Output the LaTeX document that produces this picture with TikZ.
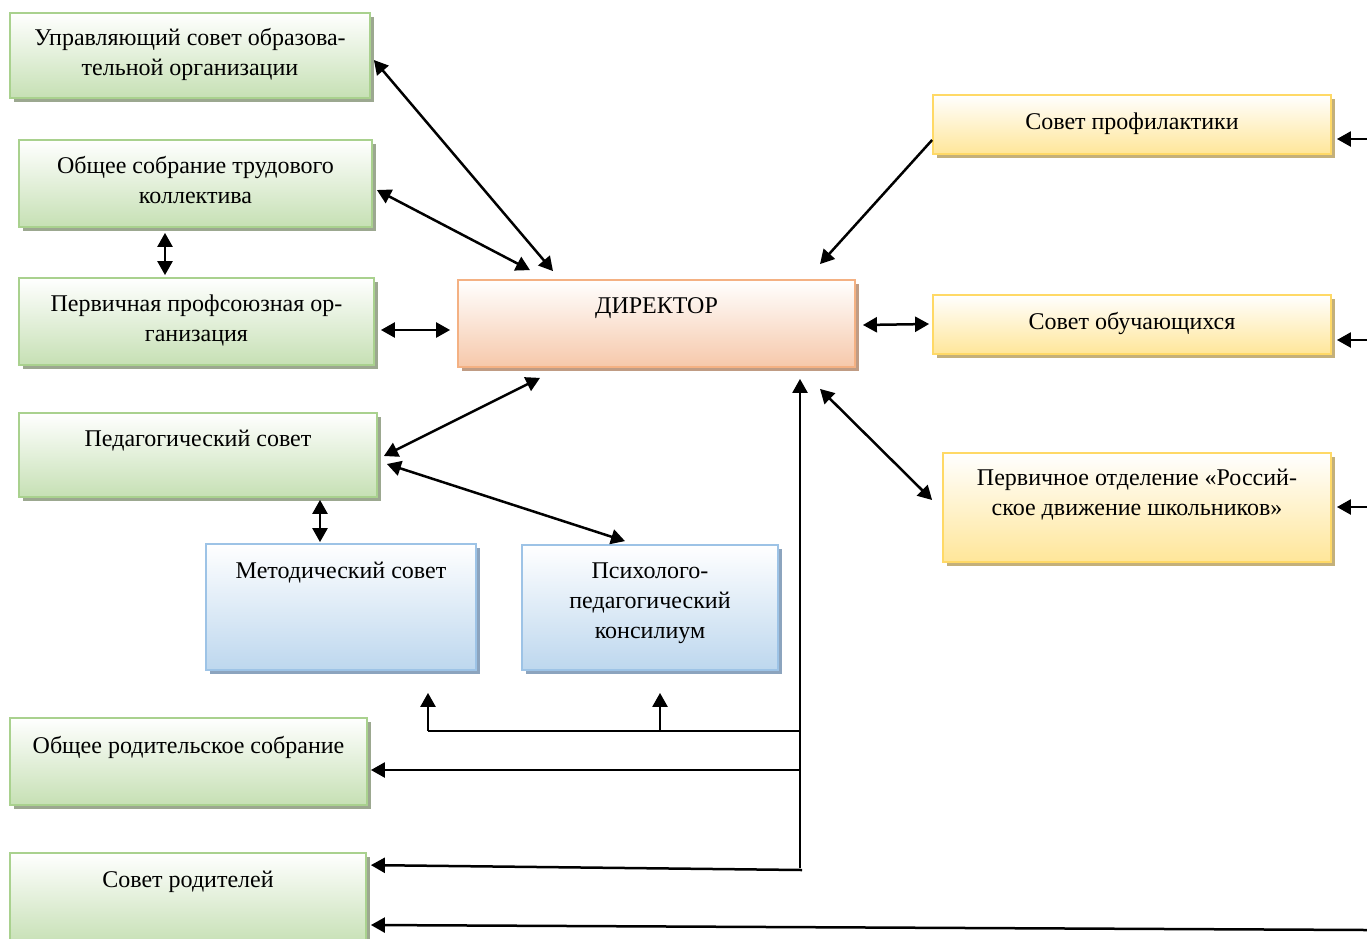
\documentclass[tikz,border=0pt]{standalone}
\usepackage{fontspec}
\setmainfont{Liberation Serif}
\usetikzlibrary{arrows.meta,calc,shadows}
\definecolor{gbord}{HTML}{A9D18E}
\definecolor{gfill}{HTML}{C6E0B4}
\definecolor{gshad}{HTML}{9CA890}
\definecolor{obord}{HTML}{F4B183}
\definecolor{ofill}{HTML}{F6C8AA}
\definecolor{oshad}{HTML}{C09C84}
\definecolor{ybord}{HTML}{FFD966}
\definecolor{yfill}{HTML}{FFE699}
\definecolor{yshad}{HTML}{C4B07A}
\definecolor{bbord}{HTML}{9DC3E6}
\definecolor{bfill}{HTML}{BDD7EE}
\definecolor{bshad}{HTML}{8CA4BE}
\tikzset{
  boxbase/.style={draw, line width=1.8pt, inner sep=0pt},
  greenbox/.style={boxbase, draw=gbord, top color=white, bottom color=gfill,
    drop shadow={shadow xshift=4pt, shadow yshift=-4pt, fill=gshad, opacity=1}},
  orangebox/.style={boxbase, draw=obord, top color=white, bottom color=ofill,
    drop shadow={shadow xshift=4pt, shadow yshift=-4pt, fill=oshad, opacity=1}},
  yellowbox/.style={boxbase, draw=ybord, top color=white, bottom color=yfill,
    drop shadow={shadow xshift=4pt, shadow yshift=-4pt, fill=yshad, opacity=1}},
  bluebox/.style={boxbase, draw=bbord, top color=white, bottom color=bfill,
    drop shadow={shadow xshift=4pt, shadow yshift=-4pt, fill=bshad, opacity=1}},
  txt/.style={anchor=north, align=center, inner sep=0pt, font=\fontsize{24}{30}\selectfont},
  tip/.tip={Triangle[length=14pt,width=15pt]},
  dbl/.style={{tip}-{tip}, line width=2.5pt},
  sgl/.style={-{tip}, line width=2.5pt},
  plain/.style={line width=2.5pt},
}
\newcommand{\st}{\strut}
\begin{document}
\begin{tikzpicture}[x=1pt,y=-1pt]
\useasboundingbox (0,0) rectangle (1367,938);
\fill[white] (0,0) rectangle (1367,938);
% boxes
\node[greenbox, minimum width=360pt, minimum height=85pt] (ups) at (190,55.5) {};
\node[greenbox, minimum width=353pt, minimum height=87pt] (obs) at (195.5,183.5) {};
\node[greenbox, minimum width=355pt, minimum height=87pt] (ppo) at (196.5,321.5) {};
\node[greenbox, minimum width=358pt, minimum height=84pt] (ped) at (198,455) {};
\node[bluebox, minimum width=270pt, minimum height=126pt] (met) at (341,607) {};
\node[bluebox, minimum width=256pt, minimum height=125pt] (psy) at (650,607.5) {};
\node[greenbox, minimum width=357pt, minimum height=87pt] (orc) at (188.5,761.5) {};
\node[greenbox, minimum width=356pt, minimum height=92pt] (sr) at (188,899) {};
\node[orangebox, minimum width=397pt, minimum height=87pt] (dir) at (656.5,323.5) {};
\node[yellowbox, minimum width=398pt, minimum height=59pt] (prof) at (1132,124.5) {};
\node[yellowbox, minimum width=398pt, minimum height=59pt] (obu) at (1132,324.5) {};
\node[yellowbox, minimum width=388pt, minimum height=109pt] (rdsh) at (1137,507.5) {};
% texts
\node[txt] (t-ups) at ($(ups.north)+(0,12.5)$) {\st Управляющий совет образова-\\тельной организации};
\node[txt] (t-obs) at ($(obs.north)+(0,13.5)$) {\st Общее собрание трудового\\коллектива};
\node[txt] (t-ppo) at ($(ppo.north)+(0,13.5)$) {\st Первичная профсоюзная ор-\\ганизация};
\node[txt] (t-ped) at ($(ped.north)+(0,13.5)$) {\st Педагогический совет};
\node[txt] (t-met) at ($(met.north)+(0,14.5)$) {\st Методический совет};
\node[txt] (t-psy) at ($(psy.north)+(0,13.5)$) {\st Психолого-\\педагогический\\консилиум};
\node[txt] (t-orc) at ($(orc.north)+(0,15.5)$) {\st Общее родительское собрание};
\node[txt] (t-sr) at ($(sr.north)+(0,14.5)$) {\st Совет родителей};
\node[txt] (t-dir) at ($(dir.north)+(0,13.5)$) {\st ДИРЕКТОР};
\node[txt] (t-prof) at ($(prof.north)+(0,14.5)$) {\st Совет профилактики};
\node[txt] (t-obu) at ($(obu.north)+(0,14.5)$) {\st Совет обучающихся};
\node[txt] (t-rdsh) at ($(rdsh.north)+(0,12.5)$) {\st Первичное отделение «Россий-\\ское движение школьников»};
% free ends on the right edge and junctions
\coordinate (r1) at (1367,139);
\coordinate (r2) at (1367,340);
\coordinate (r3) at (1367,507);
\coordinate (r4) at (1367,930);
\coordinate (bus) at (800,868);
\coordinate (busend) at (802,870);
\coordinate (j1) at (800,731);
\coordinate (j2) at (660,731);
\coordinate (j3) at (428,731);
\coordinate (j4) at (800,770);
% connectors
\draw[dbl] ($(ups.east)+(3,4.5)$) -- ($(dir.north)+(-103.5,-8)$);
\draw[dbl] ($(obs.east)+(4,6.5)$) -- ($(dir.north)+(-126.5,-9)$);
\draw[dbl] ($(obs.south)+(-30.5,5)$) -- ($(ppo.north)+(-31.5,-2)$);
\draw[dbl] ($(ppo.east)+(6,8.5)$) -- ($(dir.west)+(-7,6.5)$);
\draw[dbl] ($(ped.east)+(6,1)$) -- ($(dir.south)+(-116.5,10)$);
\draw[dbl] ($(ped.east)+(9,9)$) -- ($(psy.north)+(-25,-3)$);
\draw[dbl] ($(ped.south)+(122,2)$) -- ($(met.north)+(-21,-1)$);
\draw[sgl] ($(prof.west)+(0,15.5)$) -- ($(dir.north)+(163.5,-15)$);
\draw[dbl] ($(dir.east)+(7,1.5)$) -- ($(obu.west)+(-3,-0.5)$);
\draw[dbl] ($(dir.south)+(163.5,21)$) -- ($(rdsh.west)+(-10,-7.5)$);
\draw[sgl] (bus) -- ($(dir.south)+(143.5,11)$);
\draw[plain] (j1) -- (j3);
\draw[sgl] (j3) -- ($(met.south)+(87,22)$);
\draw[sgl] (j2) -- ($(psy.south)+(10,22)$);
\draw[sgl] (j4) -- ($(orc.east)+(3,8.5)$);
\draw[sgl] (busend) -- ($(sr.north east)+(4,13)$);
\draw[sgl] (r4) -- ($(sr.east)+(4,26)$);
\draw[sgl] (r1) -- ($(prof.east)+(5,14.5)$);
\draw[sgl] (r2) -- ($(obu.east)+(5,15.5)$);
\draw[sgl] (r3) -- ($(rdsh.east)+(5,-0.5)$);
\end{tikzpicture}
\end{document}
